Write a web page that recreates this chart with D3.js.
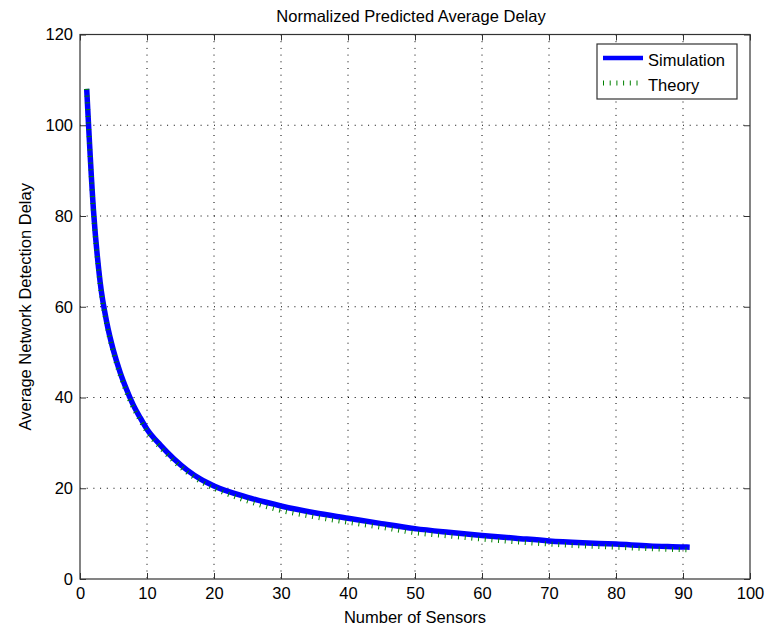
<!DOCTYPE html>
<html>
<head>
<meta charset="utf-8">
<script src="https://cdn.jsdelivr.net/npm/d3@7"></script>
<style>
  body { margin: 0; background: #fff; }
  svg { display: block; font-family: "Liberation Sans", Arial, sans-serif; }
</style>
</head>
<body>
<svg id="chart"></svg>
<script>
// data
const sensors    = [1, 2, 3, 4, 5, 6, 7, 8, 9, 10, 12, 14, 16, 18, 20, 25, 30, 35, 40, 45, 50, 55, 60, 65, 70, 75, 80, 85, 90, 91];
const simulation = [108, 81.5, 65.5, 56.5, 50.3, 45.5, 41.6, 38.2, 35.5, 33, 29.5, 26.5, 24, 22, 20.5, 18, 16.1, 14.6, 13.4, 12.2, 11.1, 10.3, 9.6, 9.0, 8.4, 8.0, 7.7, 7.3, 7.06, 7.0];
const theory     = [108, 81, 65, 56, 49.8, 45, 41, 37.6, 35, 32.5, 29, 26, 23.5, 21.5, 20, 17.2, 15.1, 13.7, 12.5, 11.4, 10.2, 9.5, 8.8, 8.2, 7.7, 7.3, 7.0, 6.7, 6.45, 6.4];
const xTicks = [0, 10, 20, 30, 40, 50, 60, 70, 80, 90, 100];
const yTicks = [0, 20, 40, 60, 80, 100, 120];
const legendLabels = ["Simulation", "Theory"];

// layout
const W = 778, H = 629;
const margin = {top: 34.5, right: 28, bottom: 50, left: 80};
const width = W - margin.left - margin.right;
const height = H - margin.top - margin.bottom;
const fontSize = 16.5;

const svg = d3.select('#chart')
    .attr('width', W)
    .attr('height', H);

const g = svg.append('g')
    .attr('transform', 'translate(' + margin.left + ',' + margin.top + ')');

const x = d3.scaleLinear().domain([0, 100]).range([0, width]);
const y = d3.scaleLinear().domain([0, 120]).range([height, 0]);

// grid (dotted)
g.append('g').selectAll('line.gx')
    .data(xTicks.slice(1, -1))
    .enter().append('line')
    .attr('x1', d => x(d)).attr('x2', d => x(d))
    .attr('y1', 0).attr('y2', height)
    .attr('stroke', '#000').attr('stroke-width', 1)
    .attr('stroke-dasharray', '1,5.7');
g.append('g').selectAll('line.gy')
    .data(yTicks.slice(1, -1))
    .enter().append('line')
    .attr('x1', 0).attr('x2', width)
    .attr('y1', d => y(d)).attr('y2', d => y(d))
    .attr('stroke', '#000').attr('stroke-width', 1)
    .attr('stroke-dasharray', '1,5.7');

// lines
const pts = (ys) => sensors.map((n, i) => [n, ys[i]]);
const line = d3.line()
    .x(d => x(d[0]))
    .y(d => y(d[1]))
    .curve(d3.curveMonotoneX);

g.append('path')
    .attr('d', line(pts(simulation)))
    .attr('fill', 'none')
    .attr('stroke', '#0000ff')
    .attr('stroke-width', 5.5)
    .attr('stroke-linejoin', 'round');

g.append('path')
    .attr('d', line(pts(theory)))
    .attr('fill', 'none')
    .attr('stroke', '#008000')
    .attr('stroke-width', 5)
    .attr('stroke-linecap', 'butt')
    .attr('stroke-dasharray', '1,5.7');

// axes, ticks pointing inward like matlab
function styleAxis(sel) {
  sel.select('.domain').remove();
  sel.selectAll('line').attr('stroke', '#333');
  sel.selectAll('text')
      .attr('fill', '#000')
      .style('font-size', fontSize + 'px')
      .style('font-family', '"Liberation Sans", Arial, sans-serif');
}

g.append('g')
    .attr('transform', 'translate(0,' + height + ')')
    .call(d3.axisBottom(x).tickValues(xTicks).tickSize(-6).tickPadding(8))
    .call(styleAxis);
g.append('g')
    .call(d3.axisLeft(y).tickValues(yTicks).tickSize(-6).tickPadding(7))
    .call(styleAxis);
g.append('g')
    .call(d3.axisTop(x).tickValues(xTicks).tickSize(-6).tickFormat(''))
    .call(styleAxis);
g.append('g')
    .attr('transform', 'translate(' + width + ',0)')
    .call(d3.axisRight(y).tickValues(yTicks).tickSize(-6).tickFormat(''))
    .call(styleAxis);

// box
g.append('rect')
    .attr('x', 0).attr('y', 0)
    .attr('width', width).attr('height', height)
    .attr('fill', 'none')
    .attr('stroke', '#333')
    .attr('stroke-width', 1.2);

// labels
svg.append('text')
    .attr('x', margin.left + width / 2 - 4)
    .attr('y', 22)
    .attr('text-anchor', 'middle')
    .style('font-size', fontSize + 'px')
    .text('Normalized Predicted Average Delay');

svg.append('text')
    .attr('x', margin.left + width / 2)
    .attr('y', 623)
    .attr('text-anchor', 'middle')
    .style('font-size', fontSize + 'px')
    .text('Number of Sensors');

svg.append('text')
    .attr('transform', 'translate(31,' + (margin.top + height / 2) + ')rotate(-90)')
    .attr('text-anchor', 'middle')
    .style('font-size', fontSize + 'px')
    .text('Average Network Detection Delay');

// legend
const legend = svg.append('g');
legend.append('rect')
    .attr('x', 597).attr('y', 44)
    .attr('width', 140).attr('height', 55)
    .attr('fill', '#fff')
    .attr('stroke', '#333')
    .attr('stroke-width', 1.2);

const legendStyles = [
  {color: '#0000ff', w: 4.5, dash: null},
  {color: '#008000', w: 5, dash: '1,5.7'}
];
legendLabels.forEach(function(label, i) {
  const ly = 58 + i * 25;
  legend.append('line')
      .attr('x1', 603).attr('x2', 643)
      .attr('y1', ly).attr('y2', ly)
      .attr('stroke', legendStyles[i].color)
      .attr('stroke-width', legendStyles[i].w)
      .attr('stroke-dasharray', legendStyles[i].dash);
  legend.append('text')
      .attr('x', 648)
      .attr('y', ly + 8)
      .style('font-size', fontSize + 'px')
      .text(label);
});
</script>
</body>
</html>
